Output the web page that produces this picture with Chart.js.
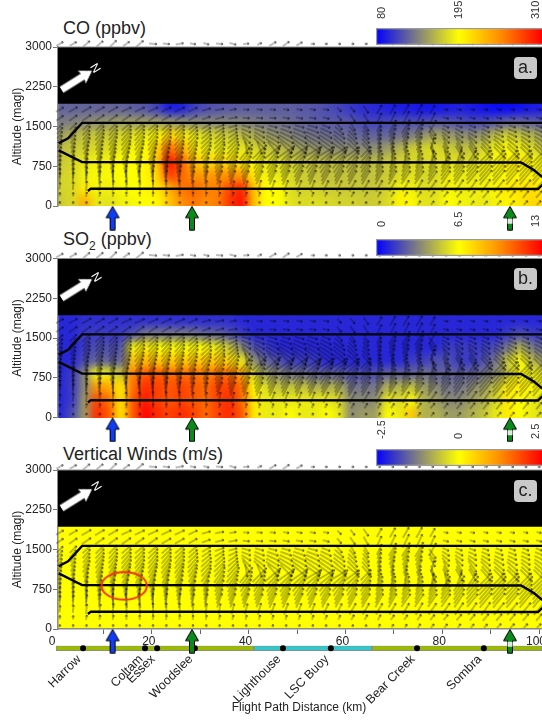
<!DOCTYPE html>
<html>
<head>
<meta charset="utf-8">
<script src="https://cdn.jsdelivr.net/npm/chart.js@4/dist/chart.umd.js"></script>
<style>
html, body { margin: 0; padding: 0; background: #fff; overflow: hidden; width: 542px; height: 720px; }
body { position: relative; font-family: "Liberation Sans", Arial, sans-serif; color: #222; }
canvas, .txt, .heat { position: absolute; }
.heat { overflow: hidden; }
.title { font-size: 18px; line-height: 20px; left: 63px; white-space: nowrap; }
.title sub { font-size: 12px; line-height: 0; }
.north { color: #fff; font-size: 12px; line-height: 12px; transform: rotate(58deg); }
.panel { left: 514px; width: 23px; height: 22px; background: #c9c9c9; border-radius: 4px; font-size: 18px; line-height: 21px; text-align: center; }
</style>
</head>
<body>
<div class="txt title" style="top:18px">CO (ppbv)</div>
<div class="txt title" style="top:229px">SO<sub>2</sub> (ppbv)</div>
<div class="txt title" style="top:444px">Vertical Winds (m/s)</div>
<script>
// heat cells: km centres, altitude edges
const heatKm = [-1.25,1.25,3.75,6.25,8.75,11.25,13.75,16.25,18.75,21.25,23.75,26.25,28.75,31.25,33.75,36.25,38.75,41.25,43.75,46.25,48.75,51.25,53.75,56.25,58.75,61.25,63.75,66.25,68.75,71.25,73.75,76.25,78.75,81.25,83.75,86.25,88.75,91.25,93.75,96.25,98.75,101.25,103.75];
const heatEdges = [-500,200,450,700,950,1200,1450,1700,3500];

const co75 = [170,172,178,235,185,182,188,192,195,198,225,250,262,252,258,288,305,225,195,195,182,178,180,178,175,175,172,172,178,200,198,182,182,195,190,188,185,190,200,205,215,210,205];
const co325 = [170,175,178,205,190,188,192,195,198,205,235,262,268,258,258,282,295,225,195,195,180,175,175,172,172,170,170,170,175,190,190,180,180,192,188,188,190,200,205,208,210,205,200];
const co575 = [170,175,178,190,192,192,195,195,198,215,285,268,250,245,248,250,245,205,190,185,178,172,170,168,168,168,168,168,172,178,182,176,178,188,186,186,188,192,196,198,198,195,190];
const co825 = [165,170,175,185,190,190,195,195,198,222,305,272,228,212,215,210,205,195,186,180,174,170,168,166,166,164,164,166,170,176,178,178,180,183,180,180,188,196,203,203,198,190,180];
const co1075 = [160,165,170,175,178,180,185,190,195,215,268,240,205,188,186,186,184,176,170,165,158,152,148,145,144,144,142,144,150,160,172,176,178,173,168,168,176,188,193,188,178,168,162];
const co1325 = [150,152,160,168,170,172,178,182,188,195,215,205,188,178,175,170,165,158,150,145,140,135,132,130,128,128,125,124,126,130,136,146,156,150,145,144,150,165,175,168,160,150,145];
const co1575 = [135,135,138,142,145,148,150,150,150,150,148,145,142,140,140,140,138,135,132,130,128,125,122,120,120,118,112,110,112,115,115,115,118,118,115,112,112,118,125,125,122,118,115];
const co1850 = [125,125,125,125,125,125,125,122,118,110,92,95,108,115,118,120,122,122,122,122,122,120,118,115,110,105,100,98,95,92,92,90,90,92,95,92,88,85,85,88,92,95,95];

const so75 = [1,1,2,4,12,11,7,11,13,12,11.5,12,11.5,10.5,11.5,12,11,7,6,6,6.5,6,6,6.5,6,3.5,4,4,6.5,6,8,4.5,4.5,4,4,4.5,5,6,7,6.5,6,5.5,5];
const so325 = [1,1,1.5,4,11.5,10.5,7,11,12.5,11.5,11,11.5,11,10.5,11.5,12,10.5,7,6,6,6,6,6,6,5.5,3.5,3.5,3.5,6,5.5,6.5,4.5,4,3.5,3.5,4,4.5,5.5,7,6.5,6,5.5,5];
const so575 = [1,1,1.5,3.5,9.5,9,7,10.5,12,11.5,11,11.5,11,10.5,11.5,11.5,10.5,6.5,5.5,5,5,5,4.5,4.5,4.5,3,3,3,4.5,4.5,5,4,3.5,3,3,3.5,4,5,7,7,6.5,6,5.5];
const so825 = [1,1,1.5,3.5,6.5,6,5,10,11,11,10.5,10.5,10.5,10,10.5,10.5,9,5.5,4,3.5,3,3,2.5,2.5,2.5,2,2,2,2.5,2.5,2.5,3,2.5,2.5,2.5,2.5,3,3.5,5,6.5,6,5.5,5];
const so1075 = [1,1,1,2,2.5,2.5,2.5,8,8.5,8,8,8,8,8,8,7.5,6,3.5,2.5,2,1.5,1.5,1.5,1,1,1,1,1,1,1,1.5,1.5,2,2,1.5,1.5,2,3,5,6.5,4.5,4,3.5];
const so1325 = [1,1,1,1.5,2,2,2,6.5,7,6.5,6.5,6.5,6.5,6.5,6,5,3.5,2,1.5,1,1,1,1,1,1,1,1,1,1,1,1,1,1,1.5,1.5,1.5,1.5,2,3,4.5,3,2.5,2.5];
const so1575 = [1,1,1,1.5,1.5,1.5,1.5,2,3,3,3,3,3,2.5,2.5,2,1.5,1,1,1,1,1,1,1,1,1,1,1,1,1,1,1,1,1,1,1,1,1,1.5,2,1.5,1.5,1.5];
const so1850 = [1,1,1,1.2,1.2,1.2,1.2,1.2,1.2,1.2,1.2,1.2,1.2,1.2,1.2,1.2,1,1,1,1,1,1,1,1,1,1,1,1,1,1,1,1,1,1,1,1,1,1,1,1,1,1,1];

// vertical wind is ~0 everywhere except these narrow stripes
const stripeKm = [12.4,16.5,22.3,19.2,30.6,20.2,8.5,11,24.2,27.5,32.4,35.7,34.5,49,43.4,71.1,79.1,85.3,87.2,83.9,91.3,92.4,93.8,95,96.9,99,98.1];
const stripeLo = [530,110,110,100,110,900,0,0,0,0,500,100,200,1500,600,100,100,100,100,100,100,100,300,100,100,100,800];
const stripeHi = [1250,760,1380,1000,630,1300,700,400,600,1500,1000,600,800,1900,1300,500,500,450,600,1000,500,500,1000,600,1100,800,1900];
const stripeVal = [1.3,0.8,1,-0.5,-1.6,-0.5,-0.3,-0.5,-0.4,-0.3,0.5,0.8,-0.4,0.3,-0.3,0.6,0.7,0.4,-0.5,-0.3,0.3,0.6,0.9,0.3,-0.8,-0.6,-0.6];

// wind arrows (direction in degrees from east, length in px), same in all panels
const windKm = [1,3.75,6.5,9.25,12,14.75,17.5,20.25,23,25.75,28.5,31.25,34,36.75,39.5,42.25,45,47.75,50.5,53.25,56,58.75,61.5,64.25,67,69.75,72.5,75.25,78,80.75,83.5,86.25,89,91.75,94.5,97.25,100];
const windAlt = [60,220,380,540,620,700,780,860,940,1020,1100,1180,1260,1340,1420,1500,1660,1820,3060];
const dir60 = [85,85,80,80,75,85,85,80,80,85,85,80,75,70,75,80,80,80,75,70,70,65,60,60,60,55,55,55,50,50,50,50,45,45,45,45,45];
const dir220 = [85,85,80,80,80,90,90,85,85,85,85,80,75,75,75,75,75,75,70,70,65,65,60,60,60,55,55,55,50,50,50,50,50,50,50,50,50];
const dir380 = [85,85,85,80,85,95,95,90,90,90,85,85,80,75,75,75,70,70,70,70,65,65,60,60,60,60,60,60,55,55,55,55,55,50,50,50,50];
const dir540 = [85,85,85,85,90,95,95,90,85,85,80,80,70,70,70,65,65,65,65,65,60,60,60,60,60,60,55,55,55,55,55,50,50,50,50,50,50];
const dir620 = [85,85,85,85,88,90,88,85,82,80,78,78,68,68,66,62,62,62,62,62,60,60,60,60,62,62,58,58,58,55,55,50,50,50,50,50,50];
const dir700 = [85,85,85,80,85,85,80,80,80,75,75,75,65,65,65,60,60,60,60,60,60,60,60,60,65,65,60,60,60,55,55,50,50,50,50,50,50];
const dir780 = [82,82,82,78,80,80,78,78,76,72,72,72,62,62,60,58,58,58,55,55,55,55,55,58,65,68,62,62,62,58,55,50,48,48,48,48,48];
const dir860 = [80,80,80,75,75,75,75,75,75,70,70,70,60,60,55,55,55,55,50,50,50,50,50,55,65,70,65,65,65,60,55,50,45,45,45,45,45];
const dir940 = [78,78,78,72,72,70,70,70,70,68,65,62,58,55,52,50,48,45,42,40,40,40,42,50,70,75,72,70,80,-80,70,55,45,45,45,45,45];
const dir1020 = [75,75,75,70,70,65,65,65,65,65,60,55,55,50,50,45,40,35,35,30,30,30,35,45,75,80,80,75,-70,-65,-60,-60,-50,-45,-45,-45,-45];
const dir1100 = [70,70,68,65,65,60,60,60,60,60,55,50,50,48,-80,-70,-50,-45,-40,-35,-35,-35,-40,-50,75,78,75,72,-75,-65,-60,-58,-48,-42,-42,-42,-42];
const dir1180 = [65,65,60,60,60,55,55,55,55,55,50,45,45,45,-60,-45,-35,-35,-35,-35,-35,-40,-45,-50,75,75,70,70,75,-65,-60,-55,-45,-40,-40,-40,-40];
const dir1260 = [60,60,58,55,55,52,52,52,52,52,48,42,42,40,-45,-38,-30,-30,-30,-30,-32,-38,-45,-52,72,70,68,68,-60,-50,-45,-42,-38,-32,-32,-32,-32];
const dir1340 = [55,55,55,50,50,50,50,50,50,50,45,40,40,35,-30,-30,-25,-25,-25,-25,-30,-35,-45,-55,70,65,65,65,-50,-40,-35,-30,-30,-25,-25,-25,-25];
const dir1420 = [50,50,50,48,48,45,45,45,45,45,42,35,30,25,-22,-22,-20,-20,-20,-20,-25,-42,-52,-58,68,62,62,62,-55,-32,-28,-25,-25,-22,-22,-22,-22];
const dir1500 = [45,45,45,45,45,40,40,40,40,40,40,30,20,15,-15,-15,-15,-15,-15,-15,-20,-50,-60,-60,65,60,60,60,60,-25,-20,-20,-20,-20,-20,-20,-20];
const dir1660 = [35,35,35,35,35,35,35,35,30,30,30,20,15,10,-5,-5,-5,-10,-10,-10,-15,-50,-55,-60,65,65,65,65,65,-15,-15,-15,-15,-15,-15,-15,-15];
const dir1820 = [30,30,30,30,30,25,25,25,25,25,25,15,10,10,-5,-5,-5,-10,-10,-10,-10,-45,-50,-55,60,60,60,60,60,-10,-10,-10,-10,-10,-10,-10,-10];
const dirTop = [30,30,40,40,45,35,40,-5,-5,10,-10,-15,-5,-15,5,25,30,35,30,0,0,0,0,0,0,-5,-5,-5,-5,-5,-5,-5,15,-5,0,0,0];
const len60 = [3,3,3,3,3,3,3,3,3,3,3,3,3,3,3,3,3,3,3,3,3,3,3,3,4,4,4,5,5,5,5,5,5,6,6,6,6];
const len220 = [4,4,5,5,5,5,5,5,5,5,5,5,5,5,5,5,5,5,5,5,5,5,6,6,6,6,6,7,7,7,8,8,9,9,9,9,9];
const len380 = [7,8,10,10,11,11,11,12,12,12,11,11,11,11,11,12,12,12,12,12,12,12,13,13,13,13,13,14,14,14,15,15,16,16,16,16,16];
const len540 = [10,11,12,14,15,15,15,15,15,15,14,14,15,15,15,15,16,16,16,16,16,16,16,16,16,16,16,16,16,16,17,17,19,19,19,19,19];
const len620 = [10,11,13,15,16,16,16,16,16,16,15,15,16,17,17,17,18,18,18,18,18,18,18,18,16,16,16,16,16,16,18,18,20,20,20,20,20];
const len700 = [11,12,14,16,17,17,17,17,17,17,16,16,17,19,19,19,19,19,19,19,19,19,19,19,17,17,17,17,17,17,19,19,20,20,20,20,20];
const len780 = [11,12,14,17,18,18,18,18,18,18,16,16,18,20,20,20,20,20,20,20,20,20,19,18,16,16,16,16,16,17,18,18,20,20,20,20,20];
const len860 = [11,12,15,17,19,19,19,19,19,19,17,17,19,20,20,20,21,21,21,21,21,21,20,19,16,16,16,16,17,17,19,19,20,20,20,20,20];
const len940 = [11,12,15,17,18,19,19,19,19,19,17,17,19,20,20,20,21,21,21,21,20,20,18,16,13,13,13,13,13,13,15,15,17,17,17,17,17];
const len1020 = [11,12,15,17,17,19,19,19,19,19,17,17,19,20,20,20,21,21,21,21,20,20,17,15,12,12,12,12,12,14,14,14,15,15,15,15,15];
const len1100 = [10,11,14,16,16,17,17,17,17,17,15,15,16,17,13,14,16,17,18,18,17,16,14,12,11,11,11,11,11,11,11,12,12,12,12,12,12];
const len1180 = [10,11,14,16,16,17,17,17,17,17,16,15,15,15,14,16,17,19,19,19,17,16,15,12,12,14,15,15,12,12,12,14,14,14,14,12,12];
const len1260 = [9,10,13,15,15,16,16,16,16,16,15,14,14,13,12,14,15,17,17,17,16,15,14,11,11,13,14,14,11,11,11,12,12,12,12,11,11];
const len1340 = [9,10,12,14,14,15,15,15,15,15,14,12,12,11,11,12,14,14,15,15,14,14,12,11,12,15,16,16,11,10,10,10,10,10,10,10,10];
const len1420 = [9,10,12,13,13,14,14,14,14,14,12,11,11,10,10,11,12,12,13,13,12,12,11,10,11,14,15,16,12,9,9,9,9,9,9,9,9];
const len1500 = [9,10,11,12,12,12,12,12,12,12,11,10,10,9,9,9,9,9,10,10,9,9,10,11,12,15,16,17,15,7,7,7,7,7,7,7,7];
const len1660 = [9,10,11,11,11,11,11,11,11,11,10,9,9,9,7,7,7,7,7,7,7,7,9,10,11,14,15,15,12,6,6,6,6,6,6,6,6];
const len1820 = [9,10,11,11,11,11,11,11,11,11,10,9,9,7,6,6,6,6,6,6,6,6,7,9,10,11,12,12,10,5,5,5,5,5,5,5,5];
const lenTop = [8,8,9,9,10,8,10,8,7,8,6,6,7,7,6,5,8,8,7,4,3,3,3,3,3,3,3,3,3,3,3,3,4,3,3,3,3];

// flight tracks
const track1Km = [0.76,2.7,5.6,100.7];
const track1Alt = [1183,1277,1568,1568];
const track2Km = [0.76,5.6,96.3,99,100.7];
const track2Alt = [1050,830,820,673,547];
const track3Km = [6.8,7.4,99.8,100.7];
const track3Alt = [283,328,320,400];

const altTicks = [0,750,1500,2250,3000];
const kmTicks = [0,10,20,30,40,50,60,70,80,90,100];
const markerKm = [11.9,28.3,94];
const townNames = ['Harrow','Coltam','Essex','Woodslee','Lighthouse','LSC Buoy','Bear Creek','Sombra'];
const townKm = [5.8,18.6,21.1,28.9,47.1,57,74.8,88.6];
const barTicksCO = [80,195,310];
const barTicksSO2 = [0,6.5,13];
const barTicksW = [-2.5,0,2.5];

const PX_PER_KM = 4.84, KM0_PX = 55, PLOT_LEFT = 58, PLOT_H = 159;
const X_MIN = (PLOT_LEFT - KM0_PX) / PX_PER_KM, X_MAX = (542 - KM0_PX) / PX_PER_KM;

Chart.defaults.font.family = '"Liberation Sans", Arial, sans-serif';
Chart.defaults.font.size = 12;
Chart.defaults.color = '#222';
Chart.defaults.animation = false;
Chart.defaults.events = [];
Chart.defaults.plugins.legend.display = false;
Chart.defaults.plugins.tooltip.enabled = false;

function addCanvas(parent, left, top, w, h) {
    const c = document.createElement('canvas');
    c.width = w; c.height = h;
    c.style.left = left + 'px'; c.style.top = top + 'px';
    c.style.width = w + 'px'; c.style.height = h + 'px';
    parent.appendChild(c);
    return c;
}

function addText(cls, left, top, html) {
    const d = document.createElement('div');
    d.className = 'txt ' + cls;
    d.style.left = left + 'px'; d.style.top = top + 'px';
    d.innerHTML = html;
    document.body.appendChild(d);
}

function offscreen(w, h) {
    const c = document.createElement('canvas');
    c.width = w; c.height = h;
    return c;
}

// blue - grey - yellow - orange - red, same stops as the colour bars
const stops = [[0,0,255],[128,128,128],[255,255,0],[255,140,0],[255,0,0]];
function heatColor(v, lo, hi) {
    const t = Math.max(0, Math.min(0.9999, (v - lo) / (hi - lo))) * 4;
    const i = Math.floor(t), f = t - i;
    const a = stops[i], b = stops[i + 1];
    return `rgb(${a[0] + (b[0] - a[0]) * f},${a[1] + (b[1] - a[1]) * f},${a[2] + (b[2] - a[2]) * f})`;
}

let arrowCache = {};
function windArrow(len) {
    if (arrowCache[len]) return arrowCache[len];
    const c = offscreen(len + 4, 6), g = c.getContext('2d');
    g.strokeStyle = 'rgba(0,0,0,0.75)';
    g.lineWidth = 0.7;
    g.beginPath();
    g.moveTo(2, 3); g.lineTo(len + 2, 3);
    g.moveTo(len, 1.9); g.lineTo(len + 2, 3); g.lineTo(len, 4.1);
    g.stroke();
    arrowCache[len] = c;
    return c;
}

function northArrow() {
    const c = offscreen(36, 16), g = c.getContext('2d');
    g.fillStyle = '#fff';
    g.beginPath();
    g.moveTo(0, 4.5); g.lineTo(25, 4.5); g.lineTo(24, 0.5); g.lineTo(36, 8);
    g.lineTo(24, 15.5); g.lineTo(25, 11.5); g.lineTo(0, 11.5);
    g.closePath(); g.fill();
    return c;
}

function markerArrow(color, split) {
    const c = offscreen(16, 25), g = c.getContext('2d');
    g.fillStyle = color; g.strokeStyle = '#000'; g.lineWidth = 1;
    g.beginPath();
    g.moveTo(8, 0.7); g.lineTo(14.5, 12); g.lineTo(10.5, 12); g.lineTo(10.5, 24.2);
    g.lineTo(5.5, 24.2); g.lineTo(5.5, 12); g.lineTo(1.5, 12);
    g.closePath(); g.fill(); g.stroke();
    if (split) {
        g.fillStyle = '#dfeadf';
        g.fillRect(5.5, 13, 5, 5);
    }
    return c;
}

function ellipseMark() {
    const c = offscreen(50, 32), g = c.getContext('2d');
    g.strokeStyle = '#f0301a'; g.lineWidth = 2;
    g.beginPath();
    g.ellipse(25, 16, 22.7, 13.8, 0, 0, Math.PI * 2);
    g.stroke();
    return c;
}

function heatLayer(top, datasets, blur) {
    const box = document.createElement('div');
    box.className = 'heat';
    box.style.cssText = `left:${PLOT_LEFT}px;top:${top}px;width:484px;height:${PLOT_H}px`;
    document.body.appendChild(box);
    const cv = addCanvas(box, -20, -20, 524, PLOT_H + 40);
    cv.style.filter = `blur(${blur}px)`;
    const altPad = 20 * 3000 / PLOT_H;
    new Chart(cv, {
        type: 'bar',
        data: { datasets },
        options: {
            responsive: false,
            scales: {
                x: { type: 'linear', display: false, offset: false, min: (PLOT_LEFT - 20 - KM0_PX) / PX_PER_KM, max: (562 - KM0_PX) / PX_PER_KM },
                y: { type: 'linear', display: false, stacked: false, min: -altPad, max: 3000 + altPad }
            }
        }
    });
}

function gridRows(rows, lo, hi) {
    return rows.map((row, r) => ({
        stack: 's',
        barThickness: 12.8,
        data: heatKm.map(km => ({ x: km, y: [heatEdges[r], heatEdges[r + 1]] })),
        backgroundColor: row.map(v => heatColor(v, lo, hi))
    }));
}

const windDirs = [dir60,dir220,dir380,dir540,dir620,dir700,dir780,dir860,dir940,dir1020,dir1100,dir1180,dir1260,dir1340,dir1420,dir1500,dir1660,dir1820,dirTop];
const windLens = [len60,len220,len380,len540,len620,len700,len780,len860,len940,len1020,len1100,len1180,len1260,len1340,len1420,len1500,len1660,len1820,lenTop];

function line(xs, ys) {
    return {
        type: 'line', order: 3, clip: false, data: xs.map((x, i) => ({ x, y: ys[i] })),
        borderColor: '#000', borderWidth: 2.4, pointRadius: 0, tension: 0
    };
}

function overlay(top, canvasTop, northAlt, markerImgs, showKm, extra) {
    const windData = [], windStyle = [], windRot = [];
    windAlt.forEach((alt, r) => windKm.forEach((km, i) => {
        windData.push({ x: km, y: alt });
        windStyle.push(windArrow(windLens[r][i]));
        windRot.push(-windDirs[r][i]);
    }));
    const datasets = [
        { order: 6, clip: false, data: windData, pointStyle: windStyle, pointRotation: windRot, pointRadius: 14 },
        {
            type: 'line', order: 5, data: [{ x: X_MIN, y: 3000 }, { x: X_MAX, y: 3000 }],
            fill: { value: 1930 }, backgroundColor: '#000', borderColor: '#8a8a8a', borderWidth: 1, pointRadius: 0, clip: false
        },
        line(track1Km, track1Alt),
        line(track2Km, track2Alt),
        line(track3Km, track3Alt),
        { order: 2, clip: false, data: [{ x: 4.5, y: northAlt }], pointStyle: northArrow(), pointRotation: -32, pointRadius: 14 },
        { order: 1, clip: false, data: markerKm.map(km => ({ x: km, y: -230 })), pointStyle: markerImgs, pointRadius: 30 }
    ].concat(extra);
    const below = 235 - (top - canvasTop) - PLOT_H;
    const cv = addCanvas(document.body, 0, canvasTop, 542, 235);
    new Chart(cv, {
        type: 'scatter',
        data: { datasets },
        options: {
            responsive: false,
            layout: { autoPadding: false, padding: { top: top - canvasTop, right: 0, left: 0, bottom: showKm ? 0 : below } },
            scales: {
                x: {
                    type: 'linear', display: showKm, min: X_MIN, max: X_MAX,
                    afterBuildTicks(s) { s.ticks = kmTicks.map(value => ({ value })); },
                    afterFit(s) { s.height = showKm ? below : 0; s.paddingLeft = 0; s.paddingRight = 0; },
                    grid: { drawOnChartArea: false, tickLength: 5, tickColor: c => c.tick && c.tick.value === 0 ? 'transparent' : '#666' },
                    border: { color: '#8a8a8a', width: 1.5 },
                    ticks: {
                        autoSkip: false, maxRotation: 0, minRotation: 0, padding: 0, labelOffset: -3, color: '#222',
                        font: { size: 12 },
                        callback: v => v % 20 === 0 ? String(v) : ''
                    }
                },
                y: {
                    type: 'linear', min: 0, max: 3000,
                    afterBuildTicks(s) { s.ticks = altTicks.map(value => ({ value })); },
                    afterFit(s) { s.width = PLOT_LEFT; },
                    grid: { drawOnChartArea: false, tickLength: 5, tickColor: '#777' },
                    border: { color: '#8a8a8a', width: 1.5 },
                    ticks: { padding: 1, color: '#222', font: { size: 12 }, callback: v => String(v) },
                    title: { display: true, text: 'Altitude (magl)', color: '#222', font: { size: 12 }, padding: { top: 10, bottom: 0 } }
                }
            }
        }
    });
}

function colorBar(top, ticks, pad) {
    const perPx = (ticks[2] - ticks[0]) / 154;
    const lo = ticks[0] - 6 * perPx, hi = ticks[2] + 6 * perPx;
    const cv = addCanvas(document.body, 376, top, 166, 46);
    new Chart(cv, {
        type: 'bar',
        data: {
            labels: ['bar'],
            datasets: [{
                data: [[lo, hi]],
                borderColor: '#999',
                borderWidth: { top: 1.5, bottom: 1.5, left: 1.5, right: 0 },
                borderSkipped: false,
                barPercentage: 1,
                categoryPercentage: 1,
                backgroundColor(c) {
                    const area = c.chart.chartArea;
                    if (!area) return '#000';
                    const g = c.chart.ctx.createLinearGradient(area.left, 0, area.right, 0);
                    stops.forEach((s, i) => g.addColorStop(i / 4, `rgb(${s})`));
                    return g;
                }
            }]
        },
        options: {
            responsive: false,
            indexAxis: 'y',
            layout: { padding: { bottom: 1 } },
            scales: {
                y: { display: false },
                x: {
                    type: 'linear', position: 'top', min: lo, max: hi,
                    afterBuildTicks(s) { s.ticks = ticks.map(value => ({ value })); },
                    afterFit(s) { s.height = 28; s.paddingLeft = 0; s.paddingRight = 0; },
                    grid: { display: false },
                    border: { display: false },
                    ticks: { autoSkip: false, minRotation: 90, maxRotation: 90, padding: pad, labelOffset: 13.2, color: '#333', font: { size: 11 }, callback: v => String(v) }
                }
            }
        }
    });
}

// flight strip with towns below the last panel
new Chart(addCanvas(document.body, 0, 640, 542, 80), {
    type: 'bar',
    data: {
        labels: ['strip'],
        datasets: [
            { type: 'scatter', order: 1, clip: false, data: townKm.map(x => ({ x, y: 'strip' })), pointRadius: 3, backgroundColor: '#000', borderWidth: 0 },
            { order: 2, stack: 's', data: [[0.2, 41.1]], backgroundColor: '#9cba00', borderColor: '#888', borderWidth: 1, borderSkipped: false, barPercentage: 1, categoryPercentage: 1 },
            { order: 2, stack: 's', data: [[41.1, 65.5]], backgroundColor: '#35c6cb', borderColor: '#888', borderWidth: 1, borderSkipped: false, barPercentage: 1, categoryPercentage: 1 },
            { order: 2, stack: 's', data: [[65.5, X_MAX]], backgroundColor: '#9cba00', borderColor: '#888', borderWidth: 1, borderSkipped: false, barPercentage: 1, categoryPercentage: 1 }
        ]
    },
    options: {
        responsive: false,
        indexAxis: 'y',
        layout: { autoPadding: false, padding: { top: 5.7, left: 56 } },
        scales: {
            y: { display: false },
            x: {
                type: 'linear', stacked: false, min: 0.207, max: X_MAX,
                afterBuildTicks(s) { s.ticks = townKm.map(value => ({ value })); },
                afterFit(s) { s.height = 69; s.paddingLeft = 0; s.paddingRight = 0; },
                grid: { display: false },
                border: { display: false },
                ticks: { autoSkip: false, minRotation: 45, maxRotation: 45, padding: -7, labelOffset: -4, color: '#222', font: { size: 12.5 }, callback: (v, i) => townNames[i] },
                title: { display: true, text: 'Flight Path Distance (km)', color: '#222', font: { size: 12 }, padding: { top: 0, bottom: 5 } }
            }
        }
    }
});

const blueArrow = markerArrow('#0f3df5');
const greenArrow = markerArrow('#0a8a1a');
const markers = [blueArrow, greenArrow, markerArrow('#0a8a1a', true)];

heatLayer(47, gridRows([co75, co325, co575, co825, co1075, co1325, co1575, co1850], 80, 310), 4);
heatLayer(258.5, gridRows([so75, so325, so575, so825, so1075, so1325, so1575, so1850], 0, 13), 4);
heatLayer(470, [
    { stack: 's', barThickness: 600, data: [{ x: 50, y: [-500, 3500] }], backgroundColor: heatColor(0, -2.5, 2.5) },
    { stack: 's', barThickness: 7, data: stripeKm.map((x, i) => ({ x, y: [stripeLo[i], stripeHi[i]] })), backgroundColor: stripeVal.map(v => heatColor(v, -2.5, 2.5)) }
], 1.6);

overlay(47, 0, 2372, markers, false, []);
overlay(258.5, 211, 2430, markers, false, []);
overlay(470, 423, 2458, markers, true, [
    { order: 2, clip: false, data: [{ x: 14.3, y: 816 }], pointStyle: ellipseMark(), pointRadius: 20 }
]);

colorBar(0, barTicksCO, 1);
colorBar(211, barTicksSO2, 4);
colorBar(421, barTicksW, 2);

addText('north', 91, 62, 'N');
addText('north', 92, 271, 'N');
addText('north', 92, 480, 'N');
addText('panel', 514, 57, 'a.');
addText('panel', 514, 268, 'b.');
addText('panel', 514, 480, 'c.');
</script>
</body>
</html>
